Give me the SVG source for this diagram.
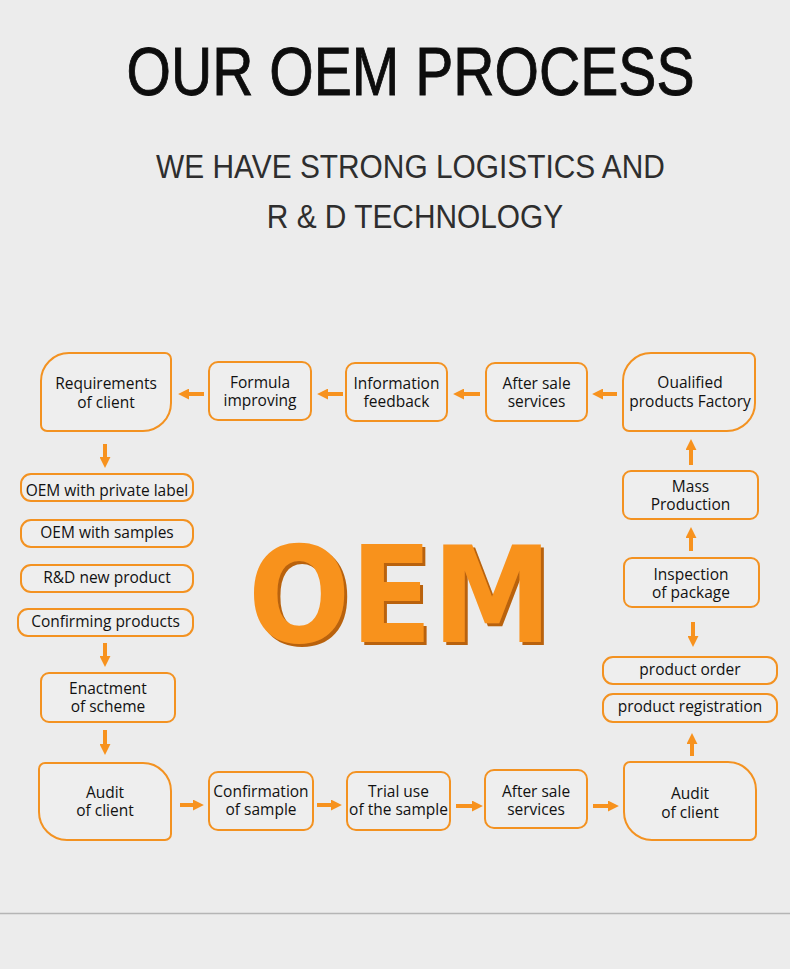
<svg xmlns="http://www.w3.org/2000/svg" width="790" height="969" viewBox="0 0 790 969">
<style>
.bg{fill:#ececec}
.box{fill:#eeeeee;stroke:#f39221;stroke-width:2}
.t{font-family:"Open Sans","Noto Sans","DejaVu Sans",sans-serif;font-size:15.5px;fill:#111111;text-anchor:middle}
.con line{stroke:#f7921e;stroke-width:4}
.title{font-family:"Liberation Sans",Arial,sans-serif;fill:#0d0d0d;stroke:#0d0d0d;stroke-width:0.9;text-anchor:middle}
.sub{font-family:"Liberation Sans",Arial,sans-serif;fill:#2e2e2e;text-anchor:middle}
.big{font-family:"DejaVu Sans",Verdana,sans-serif;font-weight:bold;font-size:133px}
</style>
<defs>
<marker id="ah" viewBox="0 0 10 10" refX="1" refY="5" markerWidth="11" markerHeight="11" markerUnits="userSpaceOnUse" orient="auto">
<path d="M0,0 L10,5 L0,10 Z" fill="#f7921e"/>
</marker>
<filter id="shadow" x="-5%" y="-5%" width="115%" height="115%">
<feOffset in="SourceAlpha" dx="2.5" dy="2.5" result="off"/>
<feFlood flood-color="#b9620c"/>
<feComposite in2="off" operator="in" result="sh"/>
<feMerge><feMergeNode in="sh"/><feMergeNode in="SourceGraphic"/></feMerge>
</filter>
</defs>
<rect class="bg" x="0" y="0" width="790" height="969"/>
<line x1="0" y1="913.5" x2="790" y2="913.5" stroke="#b5b5b5" stroke-width="1.5"/>

<g id="header">
<text class="title" transform="translate(410.5,95) scale(0.84,1)" font-size="68">OUR OEM PROCESS</text>
<text class="sub" transform="translate(410.5,178) scale(0.905,1)" font-size="33">WE HAVE STRONG LOGISTICS AND</text>
<text class="sub" transform="translate(415,228) scale(0.905,1)" font-size="33">R &amp; D TECHNOLOGY</text>
</g>

<g id="oem-center">
<text class="big" x="248" y="642" fill="#f8921e" filter="url(#shadow)" textLength="304" lengthAdjust="spacingAndGlyphs">OEM</text>
</g>

<g id="n-requirements">
<path class="box" d="M41,381 A28,28 0 0 1 69,353 L165,353 A6,6 0 0 1 171,359 L171,403 A28,28 0 0 1 143,431 L47,431 A6,6 0 0 1 41,425 Z"/>
<text class="t"><tspan x="106" y="389">Requirements</tspan><tspan x="106" y="408">of client</tspan></text>
</g>
<g id="n-formula">
<rect class="box" x="209" y="362" width="102" height="58" rx="9"/>
<text class="t"><tspan x="260" y="388">Formula</tspan><tspan x="260" y="406">improving</tspan></text>
</g>
<g id="n-information">
<rect class="box" x="346" y="363" width="101" height="58" rx="9"/>
<text class="t"><tspan x="396.5" y="389">Information</tspan><tspan x="396.5" y="407">feedback</tspan></text>
</g>
<g id="n-aftersale-top">
<rect class="box" x="486" y="363" width="101" height="58" rx="9"/>
<text class="t"><tspan x="536.5" y="389">After sale</tspan><tspan x="536.5" y="407">services</tspan></text>
</g>
<g id="n-qualified">
<path class="box" d="M623,381 A28,28 0 0 1 651,353 L749,353 A6,6 0 0 1 755,359 L755,403 A28,28 0 0 1 727,431 L629,431 A6,6 0 0 1 623,425 Z"/>
<text class="t"><tspan x="690" y="388">Oualified</tspan><tspan x="690" y="407">products Factory</tspan></text>
</g>
<g id="n-mass">
<rect class="box" x="623" y="471" width="135" height="48" rx="8"/>
<text class="t"><tspan x="690.5" y="492">Mass</tspan><tspan x="690.5" y="510">Production</tspan></text>
</g>
<g id="n-inspection">
<rect class="box" x="624" y="558" width="135" height="49" rx="8"/>
<text class="t"><tspan x="691" y="580">Inspection</tspan><tspan x="691" y="598">of package</tspan></text>
</g>
<g id="n-order">
<rect class="box" x="603" y="657" width="174" height="27" rx="10"/>
<text class="t" x="690" y="675">product order</text>
</g>
<g id="n-registration">
<rect class="box" x="603" y="694" width="174" height="28" rx="10"/>
<text class="t" x="690" y="712">product registration</text>
</g>
<g id="n-audit-right">
<path class="box" d="M630,762 L728,762 A28,28 0 0 1 756,790 L756,834 A6,6 0 0 1 750,840 L652,840 A28,28 0 0 1 624,812 L624,768 A6,6 0 0 1 630,762 Z"/>
<text class="t"><tspan x="690" y="799">Audit</tspan><tspan x="690" y="818">of client</tspan></text>
</g>
<g id="n-aftersale-bottom">
<rect class="box" x="485" y="770" width="102" height="58" rx="9"/>
<text class="t"><tspan x="536" y="797">After sale</tspan><tspan x="536" y="815">services</tspan></text>
</g>
<g id="n-trial">
<rect class="box" x="347" y="772" width="103" height="58" rx="9"/>
<text class="t"><tspan x="398.5" y="797">Trial use</tspan><tspan x="398.5" y="815">of the sample</tspan></text>
</g>
<g id="n-confirmation">
<rect class="box" x="209" y="772" width="104" height="58" rx="9"/>
<text class="t"><tspan x="261" y="797">Confirmation</tspan><tspan x="261" y="815">of sample</tspan></text>
</g>
<g id="n-audit-left">
<path class="box" d="M45,763 L143,763 A28,28 0 0 1 171,791 L171,834 A6,6 0 0 1 165,840 L67,840 A28,28 0 0 1 39,812 L39,769 A6,6 0 0 1 45,763 Z"/>
<text class="t"><tspan x="105" y="798">Audit</tspan><tspan x="105" y="816">of client</tspan></text>
</g>
<g id="n-enactment">
<rect class="box" x="41" y="673" width="134" height="49" rx="8"/>
<text class="t"><tspan x="108" y="694">Enactment</tspan><tspan x="108" y="712">of scheme</tspan></text>
</g>
<g id="n-private-label">
<rect class="box" x="21" y="474" width="172" height="27" rx="10"/>
<text class="t" x="107" y="496">OEM with private label</text>
</g>
<g id="n-samples">
<rect class="box" x="21" y="520" width="172" height="27" rx="10"/>
<text class="t" x="107" y="538">OEM with samples</text>
</g>
<g id="n-rd">
<rect class="box" x="21" y="565" width="172" height="27" rx="10"/>
<text class="t" x="107" y="583">R&amp;D new product</text>
</g>
<g id="n-confirming">
<rect class="box" x="18" y="609" width="175" height="27" rx="10"/>
<text class="t" x="105.5" y="627">Confirming products</text>
</g>

<g id="connectors" class="con">
<line x1="204" y1="394" x2="188" y2="394" marker-end="url(#ah)"/>
<line x1="343" y1="394" x2="327" y2="394" marker-end="url(#ah)"/>
<line x1="480" y1="394" x2="463" y2="394" marker-end="url(#ah)"/>
<line x1="617" y1="394" x2="602" y2="394" marker-end="url(#ah)"/>
<line x1="691" y1="465" x2="691" y2="449" marker-end="url(#ah)"/>
<line x1="691" y1="551" x2="691" y2="537" marker-end="url(#ah)"/>
<line x1="693" y1="622" x2="693" y2="637" marker-end="url(#ah)"/>
<line x1="692" y1="756" x2="692" y2="743" marker-end="url(#ah)"/>
<line x1="593" y1="806" x2="609" y2="806" marker-end="url(#ah)"/>
<line x1="456" y1="806" x2="473" y2="806" marker-end="url(#ah)"/>
<line x1="317" y1="805" x2="332" y2="805" marker-end="url(#ah)"/>
<line x1="180" y1="805" x2="194" y2="805" marker-end="url(#ah)"/>
<line x1="105" y1="444" x2="105" y2="458" marker-end="url(#ah)"/>
<line x1="105" y1="643" x2="105" y2="657" marker-end="url(#ah)"/>
<line x1="105" y1="730" x2="105" y2="745" marker-end="url(#ah)"/>
</g>
</svg>
